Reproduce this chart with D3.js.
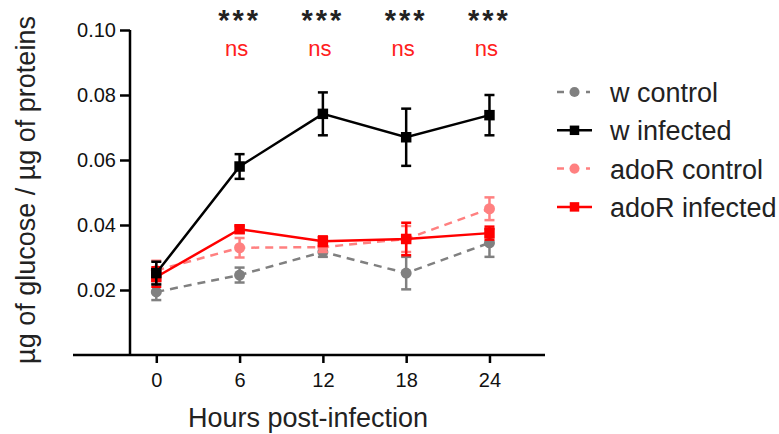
<!DOCTYPE html>
<html>
<head>
<meta charset="utf-8">
<script src="https://d3js.org/d3.v7.min.js"></script>
<style>
  body { margin: 0; background: #fff; }
  text { font-family: "Liberation Sans", Arial, sans-serif; }
</style>
</head>
<body>
<div id="chart"></div>
<script>
// data
var hours = [0, 6, 12, 18, 24];
var wControl = [0.0194, 0.0246, 0.0317, 0.0252, 0.0345];
var wControlErr = [0.0025, 0.0023, 0.0015, 0.005, 0.0043];
var wInfected = [0.0252, 0.058, 0.0742, 0.067, 0.0738];
var wInfectedErr = [0.0035, 0.0038, 0.0066, 0.0088, 0.0062];
var adoControl = [0.026, 0.033, 0.0332, 0.0357, 0.045];
var adoControlErr = [0.003, 0.003, 0.0015, 0.004, 0.0035];
var adoInfected = [0.024, 0.0387, 0.035, 0.0357, 0.0375];
var adoInfectedErr = [0.003, 0.001, 0.0015, 0.005, 0.002];
var starLabels = ["", "***", "***", "***", "***"];
var nsLabels = ["", "ns", "ns", "ns", "ns"];
var yTicks = [0.02, 0.04, 0.06, 0.08, 0.10];

var series = [
  {name: "w control", vals: wControl, err: wControlErr, color: "#808080", dash: true, shape: "circle"},
  {name: "adoR control", vals: adoControl, err: adoControlErr, color: "#ff8080", dash: true, shape: "circle"},
  {name: "adoR infected", vals: adoInfected, err: adoInfectedErr, color: "#ff0000", dash: false, shape: "square"},
  {name: "w infected", vals: wInfected, err: wInfectedErr, color: "#000000", dash: false, shape: "square"}
];
var legendOrder = ["w control", "w infected", "adoR control", "adoR infected"];

var width = 779, height = 434;
var svg = d3.select("#chart").append("svg")
  .attr("width", width).attr("height", height);

var xs = d3.scaleLinear().domain([-6, 28]).range([73, 545]);
var ys = d3.scaleLinear().domain([0, 0.1]).range([355, 30]);
var yAxisX = 130;

// y axis
svg.append("g")
  .attr("transform", "translate(" + yAxisX + ",0)")
  .call(d3.axisLeft(ys).tickValues(yTicks).tickFormat(d3.format(".2f")).tickSize(10).tickPadding(4))
  .call(function(g) {
    g.select(".domain").attr("d", "M0," + ys(0.1) + "V" + ys(0)).attr("stroke-width", 2.5);
    g.selectAll(".tick line").attr("stroke-width", 2.5);
    g.selectAll(".tick text").style("font-size", "20px").attr("fill", "#111");
  });

// x axis
svg.append("g")
  .attr("transform", "translate(0," + ys(0) + ")")
  .call(d3.axisBottom(xs).tickValues(hours).tickSize(8).tickPadding(10))
  .call(function(g) {
    g.select(".domain").attr("d", "M" + xs(-6) + ",0H" + xs(28)).attr("stroke-width", 2.5);
    g.selectAll(".tick line").attr("stroke-width", 2.5);
    g.selectAll(".tick text").style("font-size", "20px").attr("fill", "#111");
  });

// axis titles
svg.append("text")
  .attr("x", 308).attr("y", 427)
  .attr("text-anchor", "middle")
  .style("font-size", "27px").attr("fill", "#222")
  .text("Hours post-infection");

svg.append("text")
  .attr("transform", "translate(35,190) rotate(-90)")
  .attr("text-anchor", "middle")
  .style("font-size", "27px").attr("fill", "#222")
  .text("µg of glucose / µg of proteins");

var line = d3.line()
  .x(function(d, i) { return xs(hours[i]); })
  .y(function(d) { return ys(d); });

series.forEach(function(s) {
  var g = svg.append("g");
  // error bars
  hours.forEach(function(h, i) {
    var x = xs(h), lo = ys(s.vals[i] - s.err[i]), hi = ys(s.vals[i] + s.err[i]);
    g.append("line").attr("x1", x).attr("x2", x).attr("y1", lo).attr("y2", hi)
      .attr("stroke", s.color).attr("stroke-width", 2.5);
    [lo, hi].forEach(function(yy) {
      g.append("line").attr("x1", x - 5).attr("x2", x + 5).attr("y1", yy).attr("y2", yy)
        .attr("stroke", s.color).attr("stroke-width", 2.5);
    });
  });
  g.append("path").datum(s.vals)
    .attr("fill", "none").attr("stroke", s.color).attr("stroke-width", 2.5)
    .attr("stroke-dasharray", s.dash ? "8,6" : null)
    .attr("d", line);
  g.selectAll(".pt").data(s.vals).enter()
    .append("path")
    .attr("transform", function(d, i) { return "translate(" + xs(hours[i]) + "," + ys(d) + ")"; })
    .attr("d", d3.symbol().type(s.shape === "square" ? d3.symbolSquare : d3.symbolCircle).size(s.shape === "square" ? 110 : 95))
    .attr("fill", s.color);
});

// significance labels
svg.selectAll(".stars").data(starLabels).enter().append("text")
  .attr("x", function(d, i) { return xs(hours[i]); })
  .attr("y", 30)
  .attr("text-anchor", "middle")
  .style("font-size", "29px").style("font-weight", "bold").style("letter-spacing", "3px").attr("fill", "#222")
  .text(function(d) { return d; });
svg.selectAll(".ns").data(nsLabels).enter().append("text")
  .attr("x", function(d, i) { return xs(hours[i]) - 3; })
  .attr("y", 56)
  .attr("text-anchor", "middle")
  .style("font-size", "22px").attr("fill", "#ff2020")
  .text(function(d) { return d; });

// legend
var lg = svg.append("g");
legendOrder.forEach(function(name, i) {
  var s = series.find(function(d) { return d.name === name; });
  var y = 92 + i * 38.3;
  lg.append("line").attr("x1", 557).attr("x2", 592).attr("y1", y).attr("y2", y)
    .attr("stroke", s.color).attr("stroke-width", 2.5)
    .attr("stroke-dasharray", s.dash ? "7,22,4" : null);
  lg.append("path").attr("transform", "translate(574.5," + y + ")")
    .attr("d", d3.symbol().type(s.shape === "square" ? d3.symbolSquare : d3.symbolCircle).size(s.shape === "square" ? 90 : 80))
    .attr("fill", s.color);
  lg.append("text").attr("x", 610).attr("y", y + 10)
    .style("font-size", "27px").attr("fill", "#222")
    .text(name);
});
</script>
</body>
</html>
